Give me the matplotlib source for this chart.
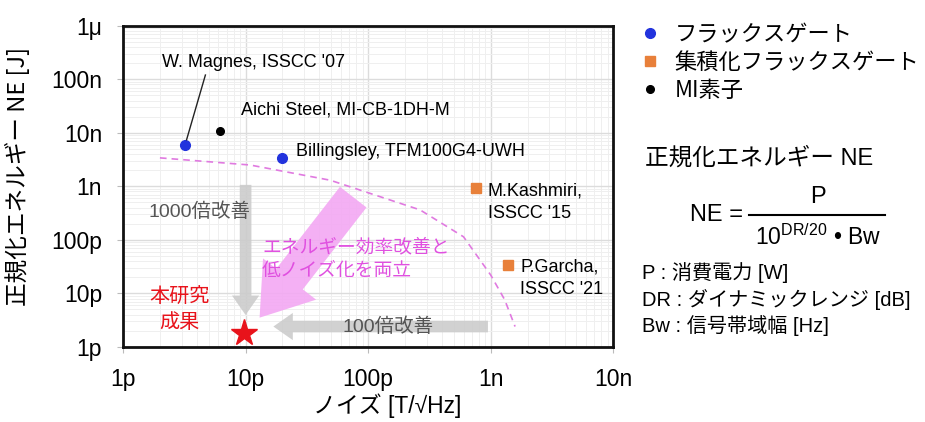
import matplotlib
matplotlib.use("Agg")
from matplotlib import pyplot as plt
from matplotlib.lines import Line2D
from matplotlib.ticker import FixedLocator, LogLocator, NullFormatter

# data (noise in T/sqrt(Hz), normalized energy in J)
fg_noise = [3.2e-12, 2.0e-11]            # fluxgate
fg_energy = [6.0e-9, 3.4e-9]
ifg_noise = [7.6e-10, 1.39e-9]           # integrated fluxgate
ifg_energy = [9.4e-10, 3.4e-11]
mi_noise = [6.2e-12]                     # MI element
mi_energy = [1.1e-8]
this_noise = [9.7e-12]
this_energy = [1.8e-12]

# dashed trade-off curve
curve_noise = [2.0e-12, 1.09e-11, 4.9e-11, 2.65e-10, 6.0e-10, 1.0e-9, 1.3e-9, 1.58e-9]
curve_energy = [3.4e-9, 2.5e-9, 1.3e-9, 3.63e-10, 1.14e-10, 2.2e-11, 7.6e-12, 2.4e-12]

x_ticks = [1e-12, 1e-11, 1e-10, 1e-9, 1e-8]
x_labels = ["1p", "10p", "100p", "1n", "10n"]
y_ticks = [1e-12, 1e-11, 1e-10, 1e-9, 1e-8, 1e-7, 1e-6]
y_labels = ["1p", "10p", "100p", "1n", "10n", "100n", "1μ"]

legend_labels = ["フラックスゲート", "集積化フラックスゲート", "MI素子"]

latin = ["Liberation Sans", "Noto Sans CJK JP"]
jp = ["Noto Sans CJK JP", "Liberation Sans"]
plt.rcParams["font.family"] = latin
plt.rcParams["mathtext.fontset"] = "custom"
plt.rcParams["mathtext.rm"] = "Liberation Sans"

fig = plt.figure(figsize=(9.25, 4.22), dpi=100)
ax = fig.add_axes([0.133, 0.178, 0.530, 0.761])
ax.set_xscale("log")
ax.set_yscale("log")
ax.set_xlim(1e-12, 1e-8)
ax.set_ylim(1e-12, 1e-6)

ax.xaxis.set_major_locator(FixedLocator(x_ticks))
ax.set_xticklabels(x_labels)
ax.yaxis.set_major_locator(FixedLocator(y_ticks))
ax.set_yticklabels(y_labels)
ax.xaxis.set_minor_locator(LogLocator(base=10, subs=range(2, 10)))
ax.yaxis.set_minor_locator(LogLocator(base=10, subs=range(2, 10)))
ax.xaxis.set_minor_formatter(NullFormatter())
ax.yaxis.set_minor_formatter(NullFormatter())
ax.grid(which="major", color="#dcdcdc", lw=1.0)
ax.grid(which="minor", color="#efefef", lw=0.7)
ax.set_axisbelow(True)
ax.tick_params(which="major", length=4, color="#bbbbbb", labelsize=16.5, pad=11)
ax.tick_params(which="minor", length=0)
for sp in ax.spines.values():
    sp.set_linewidth(2.0)
    sp.set_color("#111111")

ax.set_xlabel("ノイズ [T/√Hz]", family=latin, fontsize=16.5)
ax.xaxis.set_label_coords(0.539, -0.145)
ax.set_ylabel("正規化エネルギー NE [J]", family=jp, fontsize=17)
ax.yaxis.set_label_coords(-0.19, 0.53)

# improvement arrows
ax.annotate("", xy=(1e-11, 3.5e-12), xytext=(1e-11, 1.2e-9),
            arrowprops=dict(arrowstyle="simple,head_width=1.4,head_length=1.0,tail_width=0.6",
                            mutation_scale=14, color="#cccccc", lw=0, alpha=0.9))
ax.annotate("", xy=(1.6e-11, 2.4e-12), xytext=(1.0e-9, 2.4e-12),
            arrowprops=dict(arrowstyle="simple,head_width=1.4,head_length=1.0,tail_width=0.6",
                            mutation_scale=14, color="#cccccc", lw=0, alpha=0.9))
ax.annotate("", xy=(1.26e-11, 3.2e-12), xytext=(7.8e-11, 6.9e-10),
            arrowprops=dict(arrowstyle="simple,head_width=2.2,head_length=1.6,tail_width=1.1",
                            mutation_scale=22, color="#f3a8f3", lw=0, alpha=0.9))

ax.plot(curve_noise, curve_energy, ls=(0, (4, 3)), color="#e07ae0", lw=1.2)

ax.plot(fg_noise, fg_energy, "o", color="#2233dd", ms=7, ls="none", label=legend_labels[0])
ax.plot(ifg_noise, ifg_energy, "s", color="#e8803a", ms=7, ls="none", label=legend_labels[1])
ax.plot(mi_noise, mi_energy, "o", color="black", ms=5.5, ls="none", label=legend_labels[2])
ax.plot(this_noise, this_energy, "*", color="#e8131b", ms=20, ls="none", clip_on=False)

# labels
ax.plot([4.7e-12, 3.3e-12], [1.2e-7, 7.4e-9], color="#222222", lw=1.0)
ax.text(1.15e-11, 2.1e-7, "W. Magnes, ISSCC '07", fontsize=13, ha="center", va="center")
ax.text(9.2e-12, 2.7e-8, "Aichi Steel, MI-CB-1DH-M", fontsize=13, ha="left", va="center")
ax.text(2.6e-11, 4.5e-9, "Billingsley, TFM100G4-UWH", fontsize=13, ha="left", va="center")
ax.text(9.5e-10, 5.0e-10, "M.Kashmiri,\nISSCC '15", fontsize=13, ha="left", va="center",
        linespacing=1.4)
ax.text(1.75e-9, 1.9e-11, "P.Garcha,\nISSCC '21", fontsize=13, ha="left", va="center",
        linespacing=1.4)
ax.text(4.2e-12, 3.4e-10, "1000倍改善", fontsize=14, color="#555555", ha="center", va="center")
ax.text(1.36e-11, 4.4e-11, "エネルギー効率改善と\n低ノイズ化を両立", fontsize=13.5, color="#e050e0",
        ha="left", va="center", family=jp, linespacing=1.15)
ax.text(2.9e-12, 4.9e-12, "本研究\n成果", fontsize=14.5, color="#e8131b", ha="center", va="center",
        family=jp, linespacing=1.2)
ax.text(1.45e-10, 2.4e-12, "100倍改善", fontsize=14, color="#555555", ha="center", va="center")

fig.legend(loc="upper left", bbox_to_anchor=(0.681, 0.966), frameon=False,
           prop=dict(family=jp, size=16), handletextpad=0.6, labelspacing=0.22,
           handlelength=1.0, borderaxespad=0)

# NE definition
fig.text(0.697, 0.625, "正規化エネルギー NE", family=latin, fontsize=17, va="center")
fig.text(0.775, 0.49, "NE =", family=latin, fontsize=17, va="center", ha="center")
fig.text(0.884, 0.533, "P", family=latin, fontsize=17, va="center", ha="center")
fig.add_artist(Line2D([0.81, 0.957], [0.49, 0.49], color="black", lw=1.5))
fig.text(0.884, 0.438, r"$\mathrm{10^{DR/20}}$ • Bw", family=latin, fontsize=16.5,
         va="center", ha="center")
fig.text(0.694, 0.355, "P : 消費電力 [W]", family=latin, fontsize=14.5, va="center")
fig.text(0.694, 0.29, "DR : ダイナミックレンジ [dB]", family=latin, fontsize=14.5, va="center")
fig.text(0.694, 0.228, "Bw : 信号帯域幅 [Hz]", family=latin, fontsize=14.5, va="center")

fig.savefig("out.png", dpi=100)
